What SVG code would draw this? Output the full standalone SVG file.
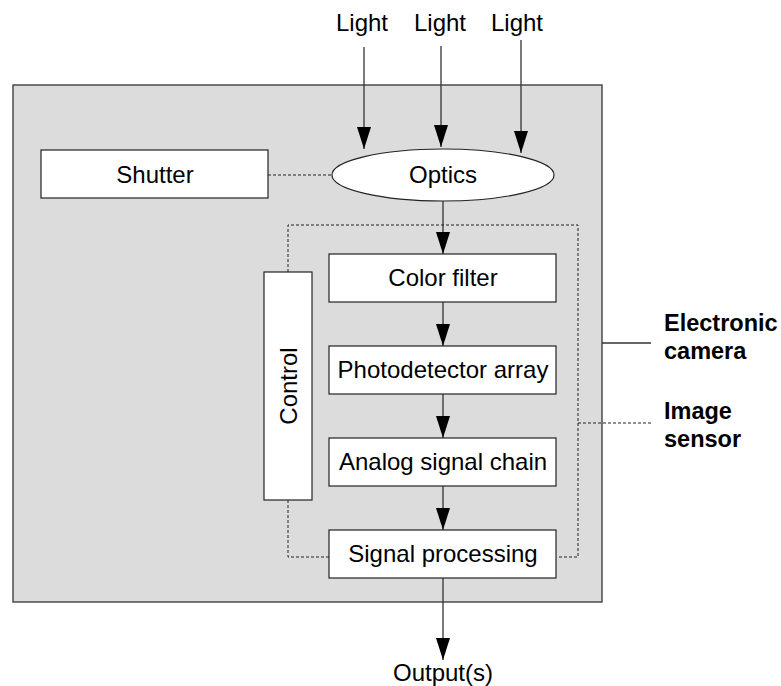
<svg xmlns="http://www.w3.org/2000/svg" width="781" height="686" viewBox="0 0 781 686">
<style>
text{font-family:"Liberation Sans",Arial,sans-serif;font-size:24px;fill:#000}
.b{font-weight:bold;font-size:23.5px}
.box{fill:#fff;stroke:#222;stroke-width:1.2}
.ln{stroke:#333;stroke-width:1.3;fill:none}
.dot{stroke:#222;stroke-width:1;fill:none;stroke-dasharray:3,2}
</style>
<defs>
<marker id="a" markerUnits="userSpaceOnUse" markerWidth="24" markerHeight="14" refX="22" refY="7" orient="auto" viewBox="0 0 24 14">
<path d="M0,0 L22,7 L0,14 Z" fill="#000"/>
</marker>
</defs>
<rect id="camera" x="13" y="85" width="589" height="517" fill="#dcdcdc" stroke="#333" stroke-width="1.3"/>
<g id="connectors">
<line class="ln" x1="364" y1="47" x2="364" y2="149" marker-end="url(#a)"/>
<line class="ln" x1="441" y1="46" x2="441" y2="147" marker-end="url(#a)"/>
<line class="ln" x1="521" y1="40" x2="521" y2="153" marker-end="url(#a)"/>
<line class="dot" x1="268" y1="175" x2="332" y2="175"/>
<line class="ln" x1="443" y1="201" x2="443" y2="254" marker-end="url(#a)"/>
<line class="ln" x1="443" y1="302" x2="443" y2="346" marker-end="url(#a)"/>
<line class="ln" x1="443" y1="394" x2="443" y2="438" marker-end="url(#a)"/>
<line class="ln" x1="443" y1="486" x2="443" y2="530" marker-end="url(#a)"/>
<line class="ln" x1="443" y1="578" x2="443" y2="660" marker-end="url(#a)"/>
<path class="dot" d="M288,272 V225 H578 V557 H557"/>
<path class="dot" d="M288,500 V557 H329"/>
<line class="ln" x1="602" y1="343" x2="651" y2="343"/>
<line class="dot" x1="578" y1="423" x2="651" y2="423"/>
</g>
<g id="light-labels">
<text x="362" y="31" text-anchor="middle">Light</text>
<text x="440" y="31" text-anchor="middle">Light</text>
<text x="517" y="31" text-anchor="middle">Light</text>
</g>
<g id="shutter"><rect class="box" x="41" y="150" width="227" height="48"/><text x="155" y="183" text-anchor="middle">Shutter</text></g>
<g id="optics"><ellipse class="box" cx="443" cy="175" rx="111" ry="26"/><text x="443" y="183" text-anchor="middle">Optics</text></g>
<g id="control"><rect class="box" x="264" y="272" width="48" height="228"/><text transform="translate(297,386) rotate(-90)" text-anchor="middle">Control</text></g>
<g id="color-filter"><rect class="box" x="329" y="254" width="227" height="48"/><text x="443" y="286" text-anchor="middle">Color filter</text></g>
<g id="photodetector"><rect class="box" x="329" y="346" width="227" height="48"/><text x="443" y="378" text-anchor="middle">Photodetector array</text></g>
<g id="analog"><rect class="box" x="329" y="438" width="227" height="48"/><text x="443" y="470" text-anchor="middle">Analog signal chain</text></g>
<g id="signal-processing"><rect class="box" x="329" y="530" width="227" height="48"/><text x="443" y="562" text-anchor="middle">Signal processing</text></g>
<g id="output"><text x="443" y="681" text-anchor="middle">Output(s)</text></g>
<g id="labels">
<text class="b" x="664" y="331">Electronic</text>
<text class="b" x="664" y="359">camera</text>
<text class="b" x="664" y="419">Image</text>
<text class="b" x="664" y="447">sensor</text>
</g>
</svg>
